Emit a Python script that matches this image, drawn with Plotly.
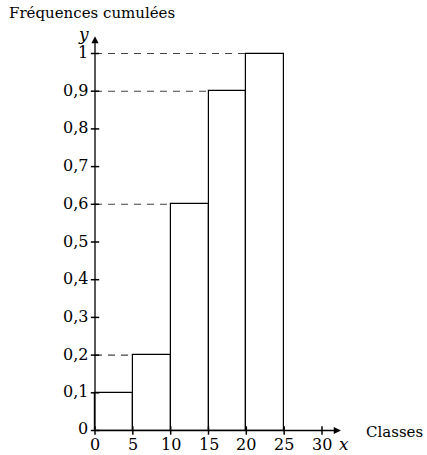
import plotly.graph_objects as go

# Cumulative frequency by class
class_edges = [0, 5, 10, 15, 20, 25]
cum_freq = [0.1, 0.2, 0.6, 0.9, 1.0]
x_ticks = [0, 5, 10, 15, 20, 25, 30]
x_tick_labels = ["0", "5", "10", "15", "20", "25", "30"]
y_ticks = [0, 0.1, 0.2, 0.3, 0.4, 0.5, 0.6, 0.7, 0.8, 0.9, 1.0]
y_tick_labels = ["0", "0,1", "0,2", "0,3", "0,4", "0,5", "0,6", "0,7", "0,8", "0,9", "1"]

W, H = 427, 455
FONT = "DejaVu Serif"
px_x = 227 / 30.0   # pixels per x unit
px_y = 377.0        # pixels per y unit
x0_px, y0_px = 95.0, 430.5

x_range = [-x0_px / px_x, (W - x0_px) / px_x]
y_range = [-(H - y0_px) / px_y, y0_px / px_y]

centers = [(a + b) / 2 for a, b in zip(class_edges[:-1], class_edges[1:])]
widths = [b - a for a, b in zip(class_edges[:-1], class_edges[1:])]

fig = go.Figure()

fig.add_trace(go.Bar(
    x=centers, y=cum_freq, width=widths,
    marker=dict(color="white", line=dict(color="black", width=1.2)),
    hoverinfo="skip", showlegend=False,
))

# Dashed guides from the y-axis to the top-left corner of each bar
for left, val in zip(class_edges[:-1], cum_freq):
    if left > 0:
        fig.add_trace(go.Scatter(
            x=[0, left], y=[val, val], mode="lines",
            line=dict(color="#444", width=1.1, dash="7px,6px"),
            hoverinfo="skip", showlegend=False,
        ))

# Axes with arrowheads
x_tip, y_tip = 32.5, 1.046
fig.add_annotation(x=x_tip, y=0, ax=0, ay=0, xref="x", yref="y", axref="x", ayref="y",
                   showarrow=True, arrowhead=2, arrowsize=1.1, arrowwidth=1.3,
                   arrowcolor="black", text="")
fig.add_annotation(x=0, y=y_tip, ax=0, ay=0, xref="x", yref="y", axref="x", ayref="y",
                   showarrow=True, arrowhead=2, arrowsize=1.1, arrowwidth=1.3,
                   arrowcolor="black", text="")

# Tick marks
fig.add_trace(go.Scatter(
    x=x_ticks, y=[0] * len(x_ticks), mode="markers",
    marker=dict(symbol="line-ns", size=6, line=dict(color="black", width=1.5)),
    hoverinfo="skip", showlegend=False, cliponaxis=False,
))
fig.add_trace(go.Scatter(
    x=[0] * len(y_ticks), y=y_ticks, mode="markers",
    marker=dict(symbol="line-ew", size=6, line=dict(color="black", width=1.5)),
    hoverinfo="skip", showlegend=False, cliponaxis=False,
))

# Tick labels
for xv, lab in zip(x_ticks, x_tick_labels):
    fig.add_annotation(x=xv, y=0, xref="x", yref="y", text=lab, showarrow=False,
                       yanchor="top", yshift=-2, font=dict(family=FONT, size=16, color="black"))
for yv, lab in zip(y_ticks, y_tick_labels):
    fig.add_annotation(x=0, y=yv, xref="x", yref="y", text=lab, showarrow=False,
                       xanchor="right", xshift=-5, yshift=1 if yv > 0 else 2,
                       font=dict(family=FONT, size=16, color="black"))

# Axis names
fig.add_annotation(x=x_tip, y=0, xref="x", yref="y", text="<i>x</i>", showarrow=False,
                   xanchor="center", yanchor="top", xshift=3, yshift=-1,
                   font=dict(family=FONT, size=17, color="black"))
fig.add_annotation(x=0, y=y_tip, xref="x", yref="y", text="<i>y</i>", showarrow=False,
                   xanchor="right", yanchor="middle", xshift=-5, yshift=2, borderpad=0,
                   font=dict(family=FONT, size=17, color="black"))
fig.add_annotation(x=8 / W, y=1 - 3 / H, xref="paper", yref="paper", text="Fréquences cumulées",
                   showarrow=False, xanchor="left", yanchor="top", borderpad=0,
                   font=dict(family=FONT, size=15, color="black"))
fig.add_annotation(x=1 - 2 / W, y=(H - 432) / H, xref="paper", yref="paper", text="Classes",
                   showarrow=False, xanchor="right", yanchor="middle",
                   font=dict(family=FONT, size=15, color="black"))

fig.update_xaxes(range=x_range, visible=False, fixedrange=True)
fig.update_yaxes(range=y_range, visible=False, fixedrange=True)
fig.update_layout(
    width=W, height=H, margin=dict(l=0, r=0, t=0, b=0),
    plot_bgcolor="white", paper_bgcolor="white", bargap=0,
)

fig.write_html("out.html")
